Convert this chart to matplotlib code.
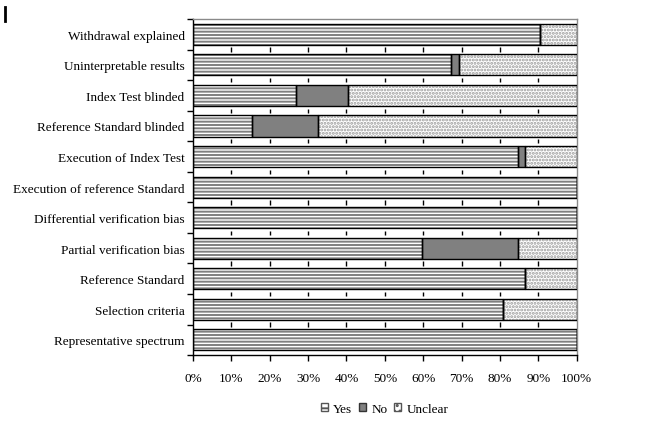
import numpy as np
import matplotlib
matplotlib.use('Agg')
import matplotlib.pyplot as plt
from matplotlib.patches import Patch
from matplotlib.lines import Line2D

plt.rcParams['font.family'] = ['Liberation Serif', 'DejaVu Serif']
plt.rcParams['hatch.linewidth'] = 1.4

# QUADAS items, top to bottom
categories = ['Withdrawal explained', 'Uninterpretable results', 'Index Test blinded',
              'Reference Standard blinded', 'Execution of Index Test',
              'Execution of reference Standard', 'Differential verification bias',
              'Partial verification bias', 'Reference Standard', 'Selection criteria',
              'Representative spectrum']
yes = [90.4, 67.3, 26.9, 15.4, 84.6, 100.0, 100.0, 59.6, 86.5, 80.8, 100.0]
no = [0.0, 1.9, 13.5, 17.3, 1.9, 0.0, 0.0, 25.0, 0.0, 0.0, 0.0]
unclear = [9.6, 30.8, 59.6, 67.3, 13.5, 0.0, 0.0, 15.4, 13.5, 19.2, 0.0]
xticklabels = ['0%', '10%', '20%', '30%', '40%', '50%', '60%', '70%', '80%', '90%', '100%']


def main():
    fig = plt.figure(figsize=(6.54, 4.27), dpi=100)
    ax = fig.add_axes([0.295, 0.166, 0.587, 0.787])
    n = len(categories)
    y = np.arange(n)
    h = 0.69
    yes_a = np.array(yes)
    no_a = np.array(no)
    unc_a = np.array(unclear)

    # grid marks only visible in the gaps between bars
    for yb in y[:-1] + 0.5:
        ax.vlines(np.arange(10, 100, 10), yb - 0.07, yb + 0.07, color='black', lw=1, zorder=1)

    # fills (hatch in grey), then black outlines on top
    ax.barh(y, yes_a, height=h, color='white', edgecolor='#808080', hatch='-----', lw=0, zorder=2)
    ax.barh(y, no_a, left=yes_a, height=h, color='#808080', lw=0, zorder=2)
    ax.barh(y, unc_a, left=yes_a + no_a, height=h, color='white', edgecolor='#9a9a9a',
            hatch='.....', lw=0, zorder=2)
    for vals, left in [(yes_a, 0), (no_a, yes_a), (unc_a, yes_a + no_a)]:
        ax.barh(y, vals, left=left, height=h, fill=False, edgecolor='black', lw=1, zorder=3)

    ax.set_xlim(0, 100)
    ax.set_ylim(n - 0.5, -0.5)
    ax.set_xticks(np.arange(0, 101, 10))
    ax.set_xticklabels(xticklabels, fontsize=9.5)
    ax.set_yticks(np.arange(-0.5, n, 1.0))
    ax.set_yticklabels([])
    ax.set_yticks(y, minor=True)
    ax.set_yticklabels(categories, minor=True, fontsize=9.5)
    ax.tick_params(axis='y', which='minor', length=0, pad=6)
    ax.tick_params(axis='y', which='major', direction='out', length=4, width=1)
    ax.tick_params(axis='x', direction='out', length=4, width=1, pad=8)
    ax.spines['top'].set_color('#8a8a8a')
    ax.spines['right'].set_color('#8a8a8a')
    for s in ax.spines.values():
        s.set_linewidth(1)

    handles = [Patch(facecolor='white', edgecolor='#555555', hatch='---', label='Yes'),
               Patch(facecolor='#808080', edgecolor='#333333', label='No'),
               Patch(facecolor='white', edgecolor='#555555', hatch='...', label='Unclear')]
    fig.legend(handles=handles, loc='center', bbox_to_anchor=(0.588, 0.04), ncol=3,
               frameon=False, fontsize=9.5, handlelength=0.55, handleheight=0.55,
               handletextpad=0.4, columnspacing=0.5)

    # stray mark at the top-left corner of the original image
    fig.add_artist(Line2D([0.0069, 0.0069], [1 - 8 / 427, 1 - 22 / 427], color='black', lw=2))

    fig.savefig('out.png', dpi=100)


if __name__ == '__main__':
    main()
